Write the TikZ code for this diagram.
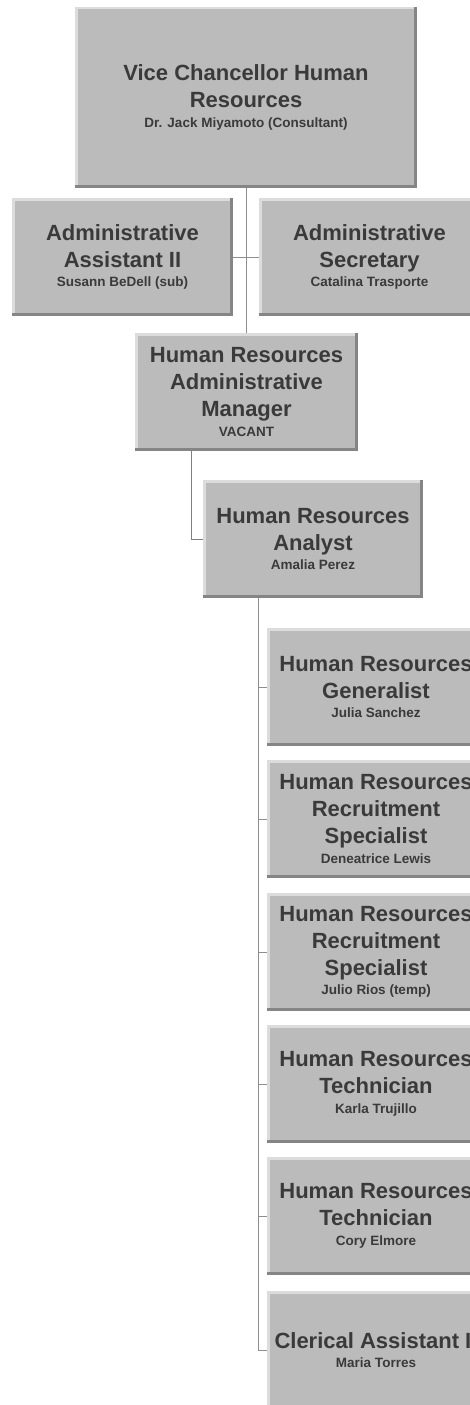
\documentclass[tikz,border=0pt]{standalone}
\usepackage{fontspec}
\setmainfont{Liberation Sans}
\definecolor{boxfill}{HTML}{BBBBBB}
\definecolor{bevlight}{HTML}{DCDCDC}
\definecolor{bevdark}{HTML}{858585}
\definecolor{txtgray}{HTML}{3A3A3A}
\definecolor{linegray}{HTML}{8E8E8E}
\newcommand\subn{\fontsize{13.5}{16}\selectfont}
\begin{document}
\begin{tikzpicture}[x=1pt,y=1pt,
  orgbox/.style={rectangle, fill=boxfill, inner sep=0pt, align=center,
    text=txtgray, font={\fontsize{22}{26.7}\selectfont\bfseries},
    minimum width=220pt, minimum height=118pt,
    path picture={
      \fill[bevlight] (path picture bounding box.north west) rectangle ([yshift=-2.5pt]path picture bounding box.north east);
      \fill[bevlight] (path picture bounding box.north west) rectangle ([xshift=2.5pt]path picture bounding box.south west);
      \fill[bevdark] (path picture bounding box.south west) rectangle ([yshift=3pt]path picture bounding box.south east);
      \fill[bevdark] (path picture bounding box.south east) rectangle ([xshift=-3pt]path picture bounding box.north east);
    }},
  conn/.style={draw=linegray, line width=1pt}]
\useasboundingbox (0,0) rectangle (470,-1405);
\clip (0,0) rectangle (470,-1405);

\node[orgbox, minimum width=342pt, minimum height=181pt] (vc) at (246,-97.5)
  {Vice Chancellor Human\\Resources\\[-7pt]{\subn Dr. Jack Miyamoto (Consultant)}};
\node[orgbox, minimum width=221pt] (aa) at (122.5,-257)
  {Administrative\\Assistant II\\[-7pt]{\subn Susann BeDell (sub)}};
\node[orgbox, minimum width=221pt] (as) at (369.5,-257)
  {Administrative\\Secretary\\[-7pt]{\subn Catalina Trasporte}};
\node[orgbox, minimum width=223pt] (mgr) at (246.5,-392)
  {Human Resources\\Administrative\\Manager\\[-7pt]{\subn VACANT}};
\node[orgbox] (an) at (313,-539)
  {Human Resources\\Analyst\\[-7pt]{\subn Amalia Perez}};

\node[orgbox, minimum width=218pt] (c1) at (376,-687)
  {Human Resources\\Generalist\\[-7pt]{\subn Julia Sanchez}};
\node[orgbox, minimum width=218pt] (c2) at (376,-819)
  {Human Resources\\Recruitment\\Specialist\\[-7pt]{\subn Deneatrice Lewis}};
\node[orgbox, minimum width=218pt] (c3) at (376,-952)
  {Human Resources\\Recruitment\\Specialist\\[-7pt]{\subn Julio Rios (temp)}};
\node[orgbox, minimum width=218pt] (c4) at (376,-1084)
  {Human Resources\\Technician\\[-7pt]{\subn Karla Trujillo}};
\node[orgbox, minimum width=218pt] (c5) at (376,-1216)
  {Human Resources\\Technician\\[-7pt]{\subn Cory Elmore}};
\node[orgbox, minimum width=218pt] (c6) at (376,-1350)
  {Clerical Assistant II\\[-7pt]{\subn Maria Torres}};

% connectors
\draw[conn] (vc.south) -- (vc.south |- mgr.north);
\draw[conn] (aa.east) -- (as.west);
\draw[conn, draw=gray] ([xshift=-55.5pt]mgr.south) |- (an.west);
\coordinate (trunk) at ([xshift=-55pt]an.south);
\draw[conn] (trunk) |- (c6.west);
\draw[conn] (trunk |- c1.west) -- (c1.west);
\draw[conn] (trunk |- c2.west) -- (c2.west);
\draw[conn] (trunk |- c3.west) -- (c3.west);
\draw[conn] (trunk |- c4.west) -- (c4.west);
\draw[conn] (trunk |- c5.west) -- (c5.west);
\end{tikzpicture}
\end{document}
